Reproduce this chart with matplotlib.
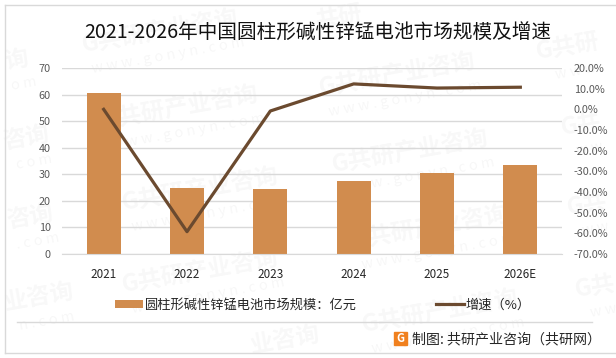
# 2021-2026 圆柱形碱性锌锰电池市场规模及增速
import matplotlib
matplotlib.use('Agg')
import matplotlib.pyplot as plt
from matplotlib.patches import Rectangle
from matplotlib.lines import Line2D

plt.rcParams['font.family'] = ['Noto Sans CJK SC', 'DejaVu Sans']

# 数据
years = ['2021', '2022', '2023', '2024', '2025', '2026E']
market_size = [60.6, 24.8, 24.5, 27.5, 30.5, 33.5]
growth = [0.0, -59.2, -0.8, 12.3, 10.3, 10.7]
left_ticks = [0, 10, 20, 30, 40, 50, 60, 70]
right_ticks = [20, 10, 0, -10, -20, -30, -40, -50, -60, -70]

W, H = 616, 358
bar_color = '#d18c4e'
line_color = '#6b4a2f'
grid_color = '#d9d9d9'
tick_color = '#595959'


def fx(x):
    return x / W


def fy(y):
    return 1 - y / H


fig = plt.figure(figsize=(W / 100, H / 100), dpi=100)
ax1 = fig.add_axes([fx(62), fy(254), 500 / W, 186 / H])
ax1.patch.set_visible(False)

# 柱形图
pos = range(len(years))
bars = ax1.bar(pos, market_size, width=0.41, color=bar_color, zorder=2,
               label='圆柱形碱性锌锰电池市场规模\uff1a亿元')
ax1.set_xlim(-0.5, 5.5)
ax1.set_ylim(0, 70)
ax1.set_yticks(left_ticks)
ax1.set_xticks(list(pos))
ax1.set_xticklabels(years, fontsize=8.4, color='#262626')
ax1.tick_params(axis='x', length=0, pad=10)
ax1.tick_params(axis='y', length=0, pad=8, labelsize=7.8, labelcolor=tick_color)
ax1.grid(axis='y', color=grid_color, lw=1, zorder=0)
ax1.set_axisbelow(True)
for s in ['top', 'left', 'right']:
    ax1.spines[s].set_visible(False)
ax1.spines['bottom'].set_color(grid_color)

# 折线图
ax2 = ax1.twinx()
line, = ax2.plot(list(pos), growth, color=line_color, lw=2.3,
                 label='增速\uff08%\uff09', zorder=3)
ax2.set_ylim(-70, 20)
ax2.set_yticks(right_ticks)
ax2.set_yticklabels([f'{t:.1f}%' for t in right_ticks])
ax2.tick_params(axis='y', length=0, pad=8.6, labelsize=7.8, labelcolor=tick_color)
for s in ax2.spines.values():
    s.set_visible(False)

# 标题和图例
fig.text(fx(318), fy(33), '2021-2026年中国圆柱形碱性锌锰电池市场规模及增速',
         fontsize=14.1, color='#111111', ha='center', va='center')
fig.legend(handles=[bars, line], loc='center left', bbox_to_anchor=(fx(115), fy(305)),
           ncol=2, frameon=False, fontsize=9.5, labelcolor='#262626', borderpad=0,
           borderaxespad=0, handlelength=2.1, handleheight=0.6, handletextpad=0.15,
           columnspacing=6.0)

# 外框和分隔线
fig.add_artist(Line2D([fx(4.5), fx(4.5)], [fy(4.5), fy(353)], color=grid_color, lw=1))
fig.add_artist(Line2D([fx(4.5), 1], [fy(4.5), fy(4.5)], color=grid_color, lw=1))
fig.add_artist(Line2D([fx(4.5), 1], [fy(353), fy(353)], color=grid_color, lw=1))
fig.add_artist(Line2D([fx(17), fx(592)], [fy(322), fy(322)], color=grid_color, lw=1))

# 底部来源
fig.add_artist(Rectangle((fx(394), fy(345)), 13 / W, 13 / H, color='#f0801e',
                         transform=fig.transFigure))
fig.text(fx(400.5), fy(338.5), 'G', color='white', fontsize=8, fontweight='bold',
         ha='center', va='center')
fig.text(fx(412), fy(339), '制图: 共研产业咨询\uff08共研网\uff09', fontsize=10.1,
         color='#262626', ha='left', va='center')

# 水印:边缘处只写露出来的部分,放在柱子下面
full_cn = 'G共研产业咨询'
full_en = 'w w w . g o n y n . c o m'
marks = [(160, 32, full_cn, full_en), (180, 108, full_cn, full_en),
         (397, 75, full_cn, full_en), (410, 152, full_cn, full_en),
         (200, 190, full_cn, full_en), (430, 228, full_cn, full_en),
         (200, 272, full_cn, full_en), (440, 312, full_cn, full_en),
         (285, 340, '业咨询', ''), (16, 60, '询', 'o m'), (26, 138, '咨询', 'c o m'),
         (30, 217, '咨询', '. c o m'), (39, 297, '业咨询', 'n . c o m'),
         (568, 47, 'G共研', 'w w w'), (581, 125, 'G共', 'w w'),
         (587, 205, 'G共', 'w w'), (595, 287, 'G共', 'w w'), (340, 18, '共研', '')]
for mx, my, cn, en in marks:
    fig.text(fx(mx), fy(my), cn, fontsize=17, fontweight='bold', color='black', zorder=-1,
             alpha=0.032, rotation=10, rotation_mode='anchor', ha='center', va='center')
    if en:
        fig.text(fx(mx + 8), fy(my + 24), en, fontsize=10.5, color='black', zorder=-1,
                 alpha=0.035, rotation=10, rotation_mode='anchor', ha='center', va='center')

fig.savefig('out.png', dpi=100)
